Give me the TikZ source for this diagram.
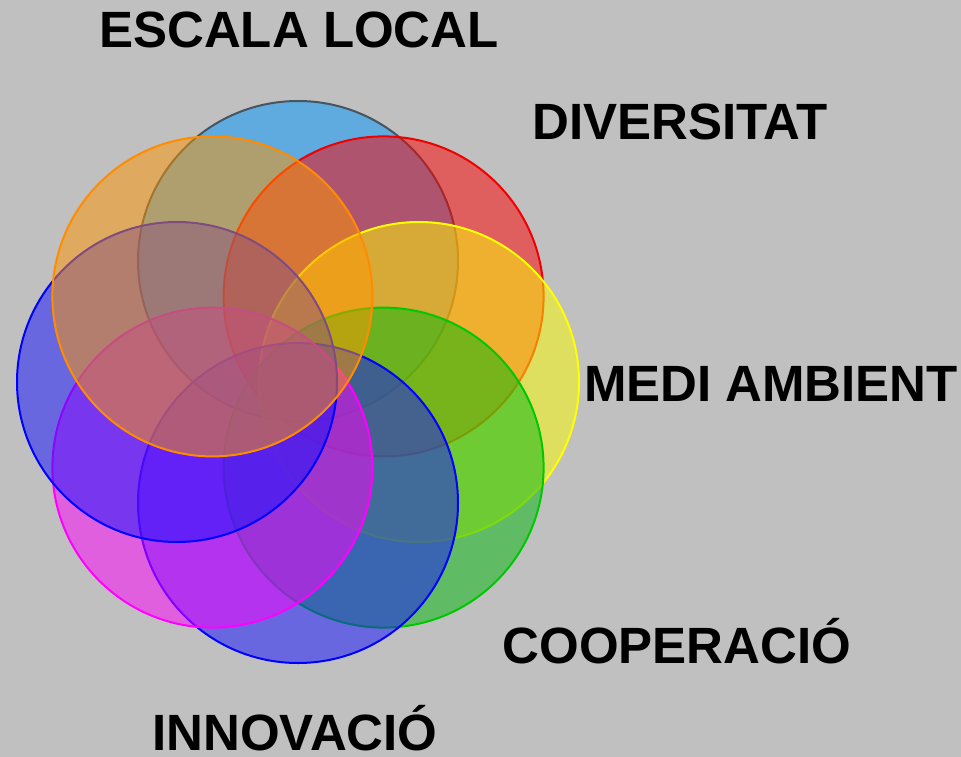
\documentclass[tikz,border=0pt]{standalone}
\usepackage{fontspec}
\setmainfont{Liberation Sans}
\definecolor{bg}{RGB}{192,192,192}
\definecolor{cTopBlue}{RGB}{0,150,255}
\definecolor{sTopBlue}{RGB}{70,85,95}
\definecolor{cRed}{RGB}{255,0,0}
\definecolor{sRed}{RGB}{240,0,0}
\definecolor{cYellow}{RGB}{255,255,0}
\definecolor{cGreen}{RGB}{0,185,10}
\definecolor{sGreen}{RGB}{0,200,0}
\definecolor{cBlue}{RGB}{20,15,255}
\definecolor{sBlue}{RGB}{0,0,255}
\definecolor{cMagenta}{RGB}{255,0,255}
\definecolor{cOrange}{RGB}{255,150,0}
\definecolor{sOrange}{RGB}{255,140,0}
\begin{document}
\begin{tikzpicture}[x=1pt,y=-1pt,
  ring/.style={circle, inner sep=0pt, minimum size=320pt, line width=2pt, fill opacity=0.5, draw opacity=1},
  label/.style={anchor=base, inner sep=0pt, font=\bfseries\fontsize{51}{60}\selectfont, text=black}]
\fill[bg] (0,0) rectangle (961,757);
\useasboundingbox (0,0) rectangle (961,757);
\node[ring, fill=cTopBlue, draw=sTopBlue] (c1) at (298,261) {};
\node[ring, fill=cRed, draw=sRed] (c2) at (383.6,296.4) {};
\node[ring, fill=cYellow, draw=cYellow] (c3) at (419,382) {};
\node[ring, fill=cGreen, draw=sGreen] (c4) at (383.6,467.6) {};
\node[ring, fill=cBlue, draw=sBlue] (c5) at (298,503) {};
\node[ring, fill=cMagenta, draw=cMagenta] (c6) at (212.4,467.6) {};
\node[ring, fill=cBlue, draw=sBlue] (c7) at (177,382) {};
\node[ring, fill=cOrange, draw=sOrange] (c8) at (212.4,296.4) {};
\node[label] (t1) at (299,48) {ESCALA LOCAL};
\node[label] (t2) at (680,140) {DIVERSITAT};
\node[label] (t3) at (771,401) {MEDI AMBIENT};
\node[label] (t4) at (677,663) {COOPERACIÓ};
\node[label] (t5) at (295,750) {INNOVACIÓ};
\end{tikzpicture}
\end{document}
